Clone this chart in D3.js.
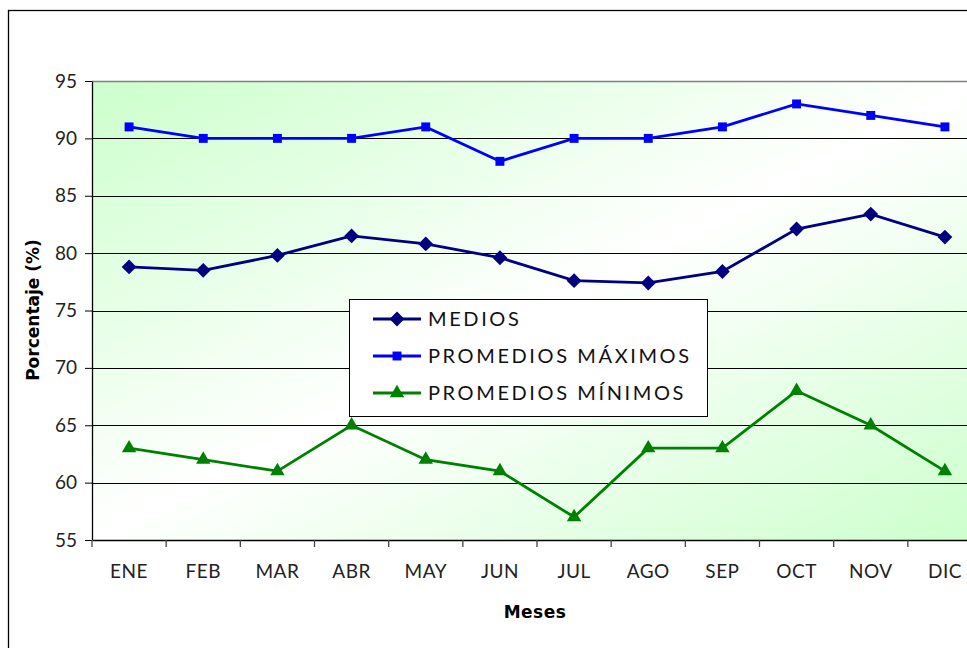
<!DOCTYPE html>
<html>
<head>
<meta charset="utf-8">
<script src="https://cdn.jsdelivr.net/npm/d3@7"></script>
<style>
  body { margin: 0; background: #fff; }
  svg text { font-family: "Century Gothic", "URW Gothic", "Lato", "DejaVu Sans", sans-serif; }
</style>
</head>
<body>
<div id="chart"></div>
<script>
const months = ["ENE", "FEB", "MAR", "ABR", "MAY", "JUN", "JUL", "AGO", "SEP", "OCT", "NOV", "DIC"];
const medios = [78.8, 78.5, 79.8, 81.5, 80.8, 79.6, 77.6, 77.4, 78.4, 82.1, 83.4, 81.4];
const maximos = [91, 90, 90, 90, 91, 88, 90, 90, 91, 93, 92, 91];
const minimos = [63, 62, 61, 65, 62, 61, 57, 63, 63, 68, 65, 61];
const yTicks = [55, 60, 65, 70, 75, 80, 85, 90, 95];

const series = [
  { name: "MEDIOS", values: medios, color: "#000080", symbol: "diamond" },
  { name: "PROMEDIOS MÁXIMOS", values: maximos, color: "#0000ff", symbol: "square" },
  { name: "PROMEDIOS MÍNIMOS", values: minimos, color: "#008000", symbol: "triangle" }
];

const W = 967, H = 648;
const plot = { left: 92, top: 81, right: 982, bottom: 540 };

const svg = d3.select("#chart").append("svg")
  .attr("width", W).attr("height", H);

// chart frame
svg.append("rect")
  .attr("x", 8.5).attr("y", 10.5)
  .attr("width", 1000).attr("height", 700)
  .attr("fill", "#fff").attr("stroke", "#000").attr("stroke-width", 1.3);

const defs = svg.append("defs");
const grad = defs.append("linearGradient").attr("id", "bg")
  .attr("x1", 0).attr("y1", 0).attr("x2", 1).attr("y2", 1);
grad.append("stop").attr("offset", 0).attr("stop-color", "#ccffcc");
grad.append("stop").attr("offset", 0.5).attr("stop-color", "#ffffff");
grad.append("stop").attr("offset", 1).attr("stop-color", "#ccffcc");

const x = d3.scaleBand().domain(months).range([plot.left, plot.right]);
const y = d3.scaleLinear().domain([55, 95]).range([plot.bottom, plot.top]);

svg.append("rect")
  .attr("x", plot.left).attr("y", plot.top)
  .attr("width", plot.right - plot.left).attr("height", plot.bottom - plot.top)
  .attr("fill", "url(#bg)");

// gridlines
svg.append("g").selectAll("line")
  .data(yTicks.filter(d => d > 55))
  .join("line")
  .attr("x1", plot.left).attr("x2", plot.right)
  .attr("y1", d => Math.round(y(d)) + 0.5).attr("y2", d => Math.round(y(d)) + 0.5)
  .attr("stroke", d => d === 95 ? "#808080" : "#000")
  .attr("stroke-width", d => d === 95 ? 1.5 : 1);

// y axis
const yAxis = svg.append("g")
  .attr("transform", `translate(${plot.left},0)`)
  .call(d3.axisLeft(y).tickValues(yTicks).tickSize(7).tickSizeOuter(0));
yAxis.select(".domain").attr("stroke", "#000").attr("stroke-width", 1.3);
yAxis.selectAll(".tick line").attr("stroke", "#000");
yAxis.selectAll(".tick text")
  .attr("x", -15).attr("font-size", 19).attr("fill", "#222")
  .style("font-family", "'URW Gothic', 'Lato', sans-serif");

// x axis
const xAxis = svg.append("g")
  .attr("transform", `translate(0,${plot.bottom})`)
  .call(d3.axisBottom(x).tickSize(0).tickPadding(25));
xAxis.select(".domain").attr("stroke", "#000").attr("stroke-width", 1.3);
xAxis.selectAll(".tick text")
  .attr("font-size", 19).attr("fill", "#222")
  .attr("letter-spacing", 0.5)
  .style("font-family", "'URW Gothic', 'Lato', sans-serif");
// category separators
svg.append("g").selectAll("line")
  .data(months)
  .join("line")
  .attr("x1", d => x(d)).attr("x2", d => x(d))
  .attr("y1", plot.bottom).attr("y2", plot.bottom + 7)
  .attr("stroke", "#444").attr("stroke-width", 1.3);

// axis titles
svg.append("text")
  .attr("transform", `translate(39,${310}) rotate(-90)`)
  .attr("text-anchor", "middle")
  .attr("font-size", 17).attr("font-weight", "bold")
  .style("font-family", "'DejaVu Sans', sans-serif")
  .text("Porcentaje (%)");
svg.append("text")
  .attr("x", 535).attr("y", 618)
  .attr("text-anchor", "middle")
  .attr("font-size", 17).attr("font-weight", "bold")
  .attr("letter-spacing", 0.5)
  .style("font-family", "'DejaVu Sans', sans-serif")
  .text("Meses");

const symbols = {
  diamond: d3.symbol().type(d3.symbolSquare).size(110),
  square: d3.symbol().type(d3.symbolSquare).size(80),
  triangle: d3.symbol().type(d3.symbolTriangle).size(90)
};

const line = d3.line()
  .x((d, i) => x(months[i]) + x.bandwidth() / 2)
  .y(d => y(d));

series.forEach(s => {
  svg.append("path")
    .datum(s.values)
    .attr("fill", "none")
    .attr("stroke", s.color)
    .attr("stroke-width", 2.8)
    .attr("d", line);
  svg.append("g").selectAll("path")
    .data(s.values)
    .join("path")
    .attr("d", symbols[s.symbol])
    .attr("fill", s.color)
    .attr("transform", (d, i) => {
      const cx = x(months[i]) + x.bandwidth() / 2;
      const rot = s.symbol === "diamond" ? " rotate(45)" : "";
      return `translate(${cx},${y(d)})${rot}`;
    });
});

// legend
const legend = svg.append("g");
legend.append("rect")
  .attr("x", 349.5).attr("y", 299.5).attr("width", 358).attr("height", 117)
  .attr("fill", "#fff").attr("stroke", "#000").attr("stroke-width", 1);
const legendY = d3.scalePoint().domain(series.map(s => s.name)).range([319, 393]);
series.forEach(s => {
  const ly = legendY(s.name);
  legend.append("line")
    .attr("x1", 373).attr("x2", 421).attr("y1", ly).attr("y2", ly)
    .attr("stroke", s.color).attr("stroke-width", 2.8);
  legend.append("path")
    .attr("d", symbols[s.symbol])
    .attr("fill", s.color)
    .attr("transform", `translate(397,${ly})${s.symbol === "diamond" ? " rotate(45)" : ""}`);
  legend.append("text")
    .attr("x", 428).attr("y", ly + 7)
    .attr("font-size", 20).attr("fill", "#111")
    .attr("letter-spacing", 2.6)
    .style("font-family", "'URW Gothic', 'Lato', sans-serif")
    .text(s.name);
});
</script>
</body>
</html>
